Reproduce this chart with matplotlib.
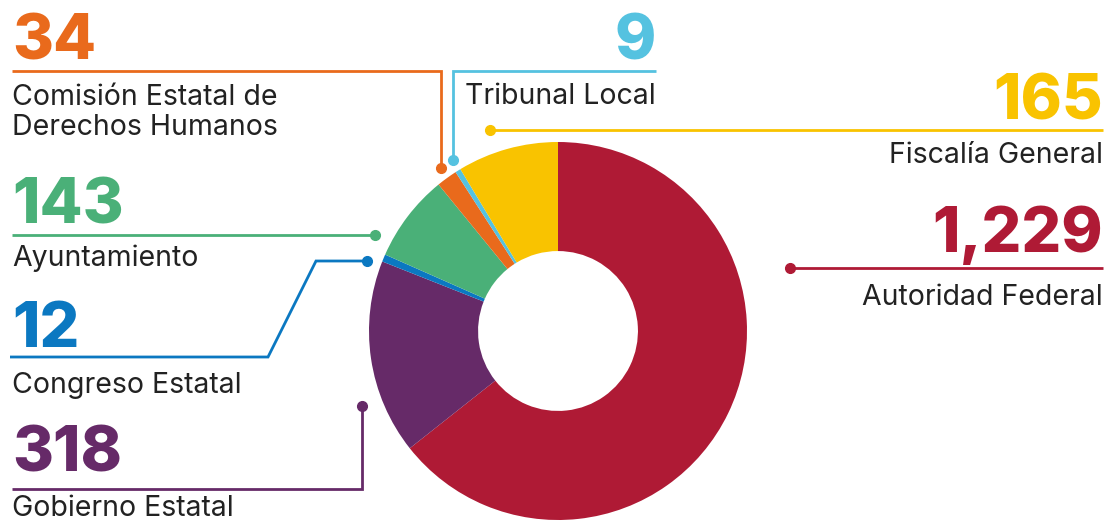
import matplotlib.pyplot as plt

# data
categories = ['Autoridad Federal', 'Gobierno Estatal', 'Congreso Estatal', 'Ayuntamiento',
              'Comisión Estatal de Derechos Humanos', 'Tribunal Local', 'Fiscalía General']
values = [1229, 318, 12, 143, 34, 9, 165]
colors = ['#AF1A35', '#662A68', '#0B78C1', '#4AB078', '#E96A1C', '#55C2E0', '#F9C300']
number_labels = ['1,229', '318', '12', '143', '34', '9', '165']
text_labels = ['Autoridad Federal', 'Gobierno Estatal', 'Congreso Estatal', 'Ayuntamiento',
               'Comisión Estatal de\nDerechos Humanos', 'Tribunal Local', 'Fiscalía General']

W, H = 1106, 522
FONT = 'Inter'
TXT = '#222222'

fig = plt.figure(figsize=(W / 100, H / 100), dpi=100)
ax = fig.add_axes([0, 0, 1, 1])

# donut, centre and radius in pixel units (y flipped)
cx, cy, r = 558, H - 331, 189
ax.pie(values, colors=colors, startangle=90, counterclock=False,
       center=(cx, cy), radius=r, frame=True,
       wedgeprops=dict(width=r * 0.577, linewidth=0))
ax.set_xlim(0, W)
ax.set_ylim(0, H)
ax.set_aspect('equal')
ax.axis('off')


def Y(y):
    return H - y


# leader lines in pixel coords from top, dot at first point
leaders = [
    [(790, 268), (1103, 268)],
    [(362, 406), (362, 489), (12, 489)],
    [(367, 261), (316, 261), (268, 357), (10, 357)],
    [(375, 235), (12, 235)],
    [(441, 168), (441, 71), (12, 71)],
    [(453, 160), (453, 71), (656, 71)],
    [(490, 130), (1103, 130)],
]
# number (x, baseline, ha) and label first baseline
num_pos = [(1103, 252, 'right'), (12, 472, 'left'), (12, 347, 'left'), (12, 223, 'left'),
           (12, 60, 'left'), (656, 60, 'right'), (1103, 120, 'right')]
lab_base = [305, 516, 393, 266, 105, 104, 163]

for i in range(len(values)):
    c = colors[i]
    pts = leaders[i]
    ax.plot([p[0] for p in pts], [Y(p[1]) for p in pts], color=c, lw=2,
            solid_joinstyle='miter', solid_capstyle='butt')
    ax.plot(pts[0][0], Y(pts[0][1]), 'o', color=c, ms=7)
    x, yb, ha = num_pos[i]
    ax.text(x, Y(yb), number_labels[i], color=c, fontsize=45, fontweight='heavy',
            family=FONT, ha=ha, va='baseline')
    for k, line in enumerate(text_labels[i].split('\n')):
        ax.text(x, Y(lab_base[i] + 30 * k), line, color=TXT, fontsize=20.5,
                family=FONT, ha=ha, va='baseline')

fig.savefig('out.png', dpi=100, facecolor='white')
